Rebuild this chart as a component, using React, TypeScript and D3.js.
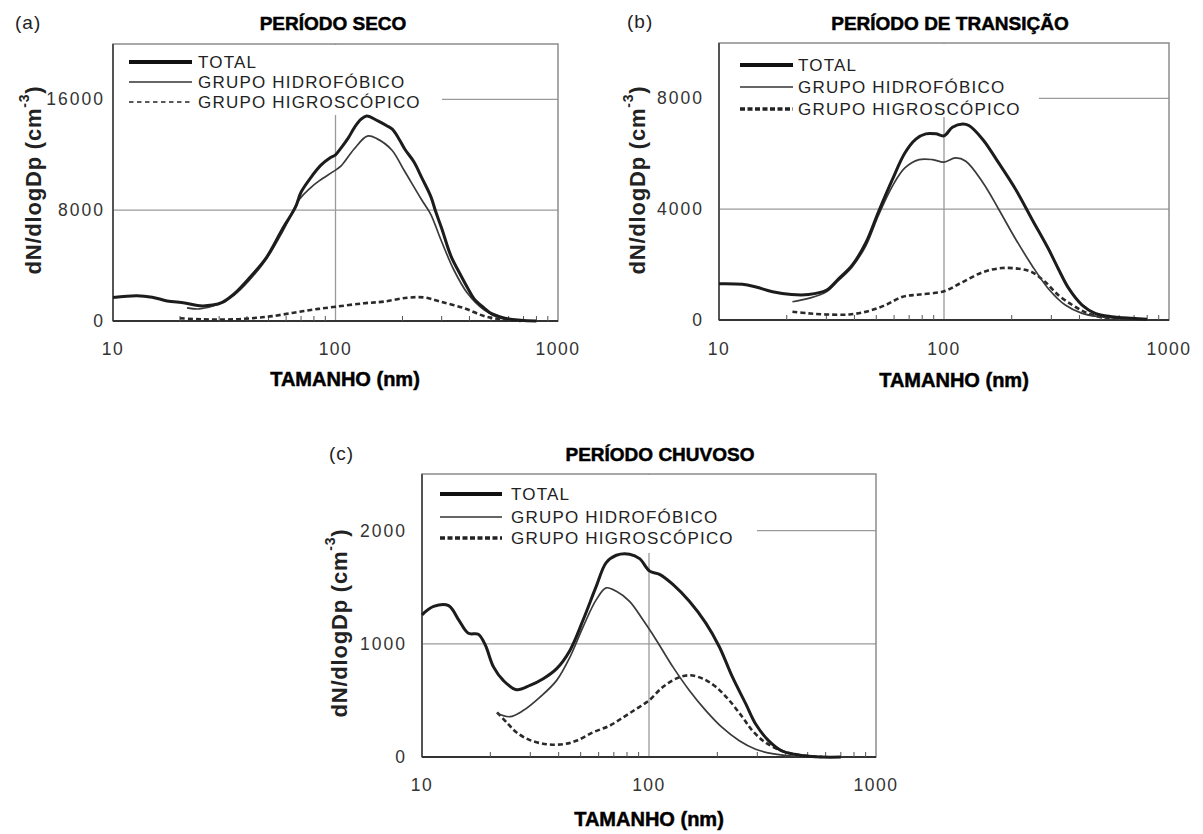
import React from 'react';
import * as d3 from 'd3';

type Pt = [number, number];

// ---- Data (diameter nm, dN/dlogDp) ----
const secoTotal: Pt[] = [[10,1700],[12.8,1830],[15,1720],[17.5,1450],[21,1300],[24.5,1100],[28,1150],[31,1350],[35,1950],[41,3100],[49,4600],[58,6700],[66,8200],[70,9300],[77,10300],[86,11250],[95,11800],[100,12000],[106,12500],[114,13200],[122,14000],[130,14550],[138,14800],[155,14450],[170,14100],[180,13850],[192,13200],[205,12400],[225,11500],[245,10300],[268,9000],[282,7900],[300,6700],[330,4700],[360,3500],[392,2400],[420,1600],[465,950],[500,550],[550,300],[600,140],[680,60],[800,0]];
const secoHidro: Pt[] = [[21.5,950],[24.5,870],[29,1150],[35,1880],[41,2950],[49,4500],[58,6500],[69,8800],[77,9600],[85,10150],[98,10800],[106,11200],[121,12400],[139,13350],[154,13150],[179,12350],[203,10900],[245,8700],[268,7700],[297,5900],[340,3700],[392,2000],[465,800],[551,200],[680,30],[800,0]];
const secoHigro: Pt[] = [[20,200],[25,120],[35,120],[44,230],[52,350],[65,600],[80,830],[100,1030],[134,1280],[165,1400],[210,1680],[250,1700],[297,1400],[379,920],[465,360],[551,120],[680,0]];

const transTotal: Pt[] = [[10,1310],[12.7,1290],[14.6,1190],[17.3,1020],[21,920],[25,920],[30,1075],[34,1490],[39,1970],[45,2800],[51,3880],[59,5075],[67,6030],[75,6530],[83,6720],[92,6720],[100,6650],[109,6960],[121,7080],[129,7020],[149,6510],[175,5670],[208,4720],[246,3640],[291,2570],[322,1850],[359,1130],[411,540],[470,240],[556,120],[685,60],[800,30]];
const transHidro: Pt[] = [[21.2,660],[25,780],[30,1015],[34,1430],[39,1910],[45,2690],[51,3760],[59,4835],[67,5490],[77.5,5790],[89,5790],[100,5700],[112.5,5850],[125,5730],[149,4955],[175,4000],[208,2925],[246,1970],[291,1130],[346,540],[411,240],[488,120],[600,60],[750,20]];
const transHigro: Pt[] = [[21.2,300],[25,240],[30,200],[38,200],[46,320],[55,540],[65.5,840],[77.5,920],[100,1040],[121,1370],[149,1730],[181,1875],[215,1850],[246,1730],[282,1370],[322,900],[372,540],[426,275],[488,120],[580,60]];

const chuvTotal: Pt[] = [[10,1256],[11.25,1330],[13.1,1337],[14.5,1212],[16,1093],[17.7,1084],[19,989],[20.65,796],[22.8,677],[26.1,594],[29.9,633],[34.2,692],[39.2,781],[44.9,944],[51.3,1212],[58.6,1509],[64.8,1717],[71.8,1782],[82.1,1791],[90.9,1752],[100.7,1642],[111.3,1613],[127.4,1524],[150.6,1375],[178,1182],[204,974],[233,707],[267,469],[295,291],[337,143],[386,53],[456,18],[580,0],[700,0]];
const chuvHidro: Pt[] = [[21.4,386],[24.4,356],[27.9,410],[33.1,529],[39.2,677],[44.9,885],[51.3,1152],[58.6,1390],[64.8,1494],[71.8,1464],[82.1,1375],[94,1212],[107.6,1034],[127.4,796],[150.6,588],[178,410],[210,261],[250,143],[295,68],[349,30],[444,6],[580,0]];
const chuvHigro: Pt[] = [[21.4,395],[23.6,306],[26.1,217],[29.9,149],[35.4,113],[41.9,113],[47.8,143],[56.5,217],[67,276],[76.9,350],[87.9,425],[100,499],[115,618],[131.6,692],[150.6,722],[172.4,692],[197.4,618],[226,499],[258.5,350],[285.6,232],[326,128],[386,53],[456,18],[580,0]];

const yTicksSeco = [0, 8000, 16000];
const yTicksTrans = [0, 4000, 8000];
const yTicksChuv = [0, 1000, 2000];
const xTickLabels = [10, 100, 1000];
const minorTicks = [20, 30, 40, 50, 60, 70, 80, 90, 200, 300, 400, 500, 600, 700, 800, 900];
const legendLabels = ['TOTAL', 'GRUPO HIDROFÓBICO', 'GRUPO HIGROSCÓPICO'];

const FONT = "'Liberation Sans', Arial, sans-serif";

interface Cfg {
  tag: string; title: string;
  left: number; right: number; top: number; bottom: number;
  yMax: number; yTicks: number[];
  total: Pt[]; hidro: Pt[]; higro: Pt[];
  tagX: number; tagY: number; titleX: number; titleY: number;
  yLabX: number; yLabY: number; tickRight: number; xTickY: number;
  xTitleX: number; xTitleY: number;
  legX1: number; legX2: number; legTextX: number; legRows: number[];
  legBgRight: number; legBgBottom: number;
  thinLegendDash: boolean;
}

const cfgs: Cfg[] = [
  { tag: '(a)', title: 'PERÍODO SECO', left: 113, right: 558, top: 44, bottom: 321, yMax: 20000, yTicks: yTicksSeco,
    total: secoTotal, hidro: secoHidro, higro: secoHigro,
    tagX: 15, tagY: 29, titleX: 333, titleY: 30, yLabX: 33, yLabY: 180, tickRight: 105, xTickY: 355,
    xTitleX: 345, xTitleY: 386, legX1: 129, legX2: 192, legTextX: 198, legRows: [62, 82, 102],
    legBgRight: 442, legBgBottom: 115, thinLegendDash: true },
  { tag: '(b)', title: 'PERÍODO DE TRANSIÇÃO', left: 719, right: 1169, top: 43, bottom: 320, yMax: 10000, yTicks: yTicksTrans,
    total: transTotal, hidro: transHidro, higro: transHigro,
    tagX: 627, tagY: 28, titleX: 950, titleY: 30, yLabX: 637, yLabY: 180, tickRight: 704, xTickY: 355,
    xTitleX: 954, xTitleY: 387, legX1: 740, legX2: 793, legTextX: 798, legRows: [65, 87, 109],
    legBgRight: 1039, legBgBottom: 117, thinLegendDash: false },
  { tag: '(c)', title: 'PERÍODO CHUVOSO', left: 422, right: 876, top: 474, bottom: 757, yMax: 2500, yTicks: yTicksChuv,
    total: chuvTotal, hidro: chuvHidro, higro: chuvHigro,
    tagX: 329, tagY: 460, titleX: 660, titleY: 461, yLabX: 339, yLabY: 623, tickRight: 407, xTickY: 791,
    xTitleX: 649, xTitleY: 826, legX1: 440, legX2: 502, legTextX: 511, legRows: [494, 517, 538],
    legBgRight: 757, legBgBottom: 553, thinLegendDash: false },
];

function Panel({ c }: { c: Cfg }) {
  const x = d3.scaleLog().domain([10, 1000]).range([c.left, c.right]);
  const y = d3.scaleLinear().domain([0, c.yMax]).range([c.bottom, c.top]);
  const line = d3.line<Pt>().x(d => x(d[0])).y(d => y(d[1])).curve(d3.curveCatmullRom.alpha(0.5));
  const gridCol = '#9a9a9a';
  return (
    <g>
      {/* gridlines */}
      {c.yTicks.filter(t => t > 0).map(t => (
        <line key={'gy' + t} x1={c.left} x2={c.right} y1={y(t)} y2={y(t)} stroke={gridCol} strokeWidth={1.3} />
      ))}
      <line x1={x(100)} x2={x(100)} y1={c.top} y2={c.bottom} stroke={gridCol} strokeWidth={1.3} />
      {/* legend background */}
      <rect x={c.left + 1} y={c.top + 1} width={c.legBgRight - c.left - 1} height={c.legBgBottom - c.top - 1} fill="#fff" />
      {/* frame */}
      <rect x={c.left} y={c.top} width={c.right - c.left} height={c.bottom - c.top} fill="none" stroke="#8c8c8c" strokeWidth={1.5} />
      <line x1={c.left} x2={c.left} y1={c.top} y2={c.bottom} stroke="#555" strokeWidth={2} />
      <line x1={c.left} x2={c.right} y1={c.bottom} y2={c.bottom} stroke="#333" strokeWidth={1.8} />
      {/* minor ticks */}
      {minorTicks.map(t => (
        <line key={'mt' + t} x1={x(t)} x2={x(t)} y1={c.bottom} y2={c.bottom - 5} stroke="#555" strokeWidth={1} />
      ))}
      {/* y tick labels */}
      {c.yTicks.map(t => (
        <text key={'yl' + t} x={c.tickRight} y={y(t) + 6} textAnchor="end" fontFamily={FONT} fontSize={17.5}
          letterSpacing={2} fill="#333">{t}</text>
      ))}
      {/* x tick labels */}
      {xTickLabels.map(t => (
        <text key={'xl' + t} x={x(t)} y={c.xTickY} textAnchor="middle" fontFamily={FONT} fontSize={17.5}
          letterSpacing={1.5} fill="#333">{t}</text>
      ))}
      {/* curves */}
      <path d={line(c.higro) || ''} fill="none" stroke="#2a2a2a" strokeWidth={2.6} strokeDasharray="5,3" />
      <path d={line(c.hidro) || ''} fill="none" stroke="#3a3a3a" strokeWidth={1.7} />
      <path d={line(c.total) || ''} fill="none" stroke="#1c1c1c" strokeWidth={3} />
      {/* legend */}
      <line x1={c.legX1} x2={c.legX2} y1={c.legRows[0]} y2={c.legRows[0]} stroke="#111" strokeWidth={4} />
      <line x1={c.legX1} x2={c.legX2} y1={c.legRows[1]} y2={c.legRows[1]} stroke="#333" strokeWidth={1.7} />
      <line x1={c.legX1} x2={c.legX2} y1={c.legRows[2]} y2={c.legRows[2]} stroke="#222"
        strokeWidth={c.thinLegendDash ? 1.6 : 3.5} strokeDasharray={c.thinLegendDash ? '4.5,3.5' : '5,2.5'} />
      {legendLabels.map((l, i) => (
        <text key={l} x={c.legTextX} y={c.legRows[i] + 6} fontFamily={FONT} fontSize={17} letterSpacing={1.2} fill="#222">{l}</text>
      ))}
      {/* titles */}
      <text x={c.tagX} y={c.tagY} fontFamily={FONT} fontSize={19} fill="#222" letterSpacing={1}>{c.tag}</text>
      <text x={c.titleX} y={c.titleY} textAnchor="middle" fontFamily={FONT} fontWeight="bold" fontSize={19}
        fill="#000" stroke="#000" strokeWidth={0.5}>{c.title}</text>
      <text x={c.xTitleX} y={c.xTitleY} textAnchor="middle" fontFamily={FONT} fontWeight="bold" fontSize={20}
        fill="#000" stroke="#000" strokeWidth={0.5}>TAMANHO (nm)</text>
      <text transform={`translate(${c.yLabX},${c.yLabY}) rotate(-90)`} textAnchor="middle" dominantBaseline="central"
        fontFamily={FONT} fontWeight="bold" fontSize={22} fill="#222" letterSpacing={0.8}>
        dN/dlogDp (cm<tspan dy={-9} fontSize={14}>-3</tspan><tspan dy={9}>)</tspan>
      </text>
    </g>
  );
}

export default function App() {
  return (
    <svg width={1203} height={834} style={{ position: 'absolute', left: 0, top: 0, display: 'block', background: '#fff' }}>
      <rect x={0} y={0} width={1203} height={834} fill="#fff" />
      {cfgs.map(c => <Panel key={c.tag} c={c} />)}
    </svg>
  );
}
